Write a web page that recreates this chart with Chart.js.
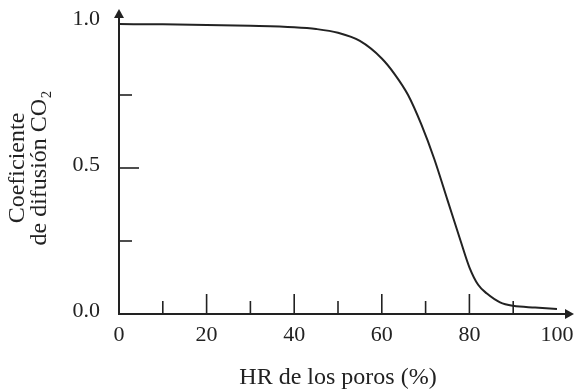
<!DOCTYPE html>
<html>
<head>
<meta charset="utf-8">
<script src="https://cdn.jsdelivr.net/npm/chart.js@4"></script>
<style>
  html, body { margin: 0; padding: 0; background: #fff; }
  #wrap { width: 579px; height: 392px; }
</style>
</head>
<body>
<div id="wrap"><canvas id="chart"></canvas></div>
<script>
// valores
var hr = [0, 10, 20, 30, 40, 45, 50, 55, 60, 63, 66, 69, 72, 75, 78, 80, 82, 84, 87, 90, 95, 100];
var coef = [0.993, 0.992, 0.99, 0.987, 0.982, 0.976, 0.963, 0.935, 0.875, 0.82, 0.75, 0.65, 0.53, 0.39, 0.25, 0.16, 0.10, 0.07, 0.04, 0.028, 0.022, 0.017];

var xTicks = [10, 20, 30, 40, 50, 60, 70, 80, 90];     // marcas en el eje x
var xLabels = [0, 20, 40, 60, 80, 100];
var yTicks = [0.25, 0.5, 0.75];
var yLabels = [0, 0.5, 1];

var ink = '#222';
var serif = "'Liberation Serif', 'Times New Roman', serif";

var points = hr.map(function(h, i){ return {x: h, y: coef[i]}; });

// ejes con flechas y marcas hacia dentro
var axesPlugin = {
    id: 'axesArrows',
    afterDatasetsDraw: function(chart){
        var c = chart.ctx;
        var xs = chart.scales.x, ys = chart.scales.y;
        var x0 = xs.getPixelForValue(0);
        var y0 = ys.getPixelForValue(0);
        c.save();
        c.strokeStyle = ink;
        c.fillStyle = ink;
        c.lineWidth = 2;

        // eje y
        c.beginPath();
        c.moveTo(x0, y0 + 1);
        c.lineTo(x0, 16);
        c.stroke();
        c.beginPath();
        c.moveTo(x0, 9);
        c.lineTo(x0 - 5, 18);
        c.lineTo(x0 + 5, 18);
        c.closePath();
        c.fill();

        // eje x
        c.beginPath();
        c.moveTo(x0 - 1, y0);
        c.lineTo(566, y0);
        c.stroke();
        c.beginPath();
        c.moveTo(574, y0);
        c.lineTo(565, y0 - 5);
        c.lineTo(565, y0 + 5);
        c.closePath();
        c.fill();

        c.lineWidth = 1.6;
        xTicks.forEach(function(v){
            var px = xs.getPixelForValue(v);
            var len = (v % 20 === 0) ? 20 : 13;
            c.beginPath();
            c.moveTo(px, y0);
            c.lineTo(px, y0 - len);
            c.stroke();
        });
        yTicks.forEach(function(v){
            var py = ys.getPixelForValue(v);
            var len = (v === 0.5) ? 20 : 13;
            c.beginPath();
            c.moveTo(x0, py);
            c.lineTo(x0 + len, py);
            c.stroke();
        });
        c.restore();
    }
};

var ctx = document.getElementById('chart');
var chart = new Chart(ctx, {
    type: 'line',
    data: {
        datasets: [{
            data: points,
            borderColor: ink,
            borderWidth: 2,
            pointRadius: 0,
            fill: false,
            cubicInterpolationMode: 'monotone'
        }]
    },
    options: {
        responsive: true,
        maintainAspectRatio: false,
        animation: false,
        layout: { padding: { left: 0, top: 22, right: 22, bottom: 0 } },
        plugins: {
            legend: { display: false },
            tooltip: { enabled: false }
        },
        scales: {
            x: {
                type: 'linear',
                min: 0,
                max: 100,
                grid: { display: false, drawTicks: false },
                border: { display: false },
                afterBuildTicks: function(scale){
                    scale.ticks = xLabels.map(function(v){ return {value: v}; });
                },
                afterFit: function(scale){
                    scale.height = 78;
                    scale.paddingLeft = 0;
                    scale.paddingRight = 0;
                },
                ticks: {
                    color: ink,
                    padding: 8,
                    maxRotation: 0,
                    autoSkip: false,
                    font: { family: serif, size: 22 },
                    callback: function(v){ return String(v); }
                },
                title: {
                    display: true,
                    text: 'HR de los poros (%)',
                    color: ink,
                    padding: { top: 0, bottom: 0 },
                    font: { family: serif, size: 24 }
                }
            },
            y: {
                type: 'linear',
                min: 0,
                max: 1,
                grid: { display: false, drawTicks: false },
                border: { display: false },
                afterBuildTicks: function(scale){
                    scale.ticks = yLabels.map(function(v){ return {value: v}; });
                },
                afterFit: function(scale){
                    scale.width = 119;
                    scale.paddingTop = 0;
                    scale.paddingBottom = 0;
                },
                ticks: {
                    color: ink,
                    padding: 19,
                    labelOffset: -3,
                    font: { family: serif, size: 22 },
                    callback: function(v){ return v.toFixed(1); }
                },
                title: {
                    display: true,
                    text: ['Coeficiente', 'de difusión CO₂'],
                    color: ink,
                    padding: { top: 7, bottom: 0 },
                    font: { family: serif, size: 24, lineHeight: 0.92 }
                }
            }
        }
    },
    plugins: [axesPlugin]
});
</script>
</body>
</html>
